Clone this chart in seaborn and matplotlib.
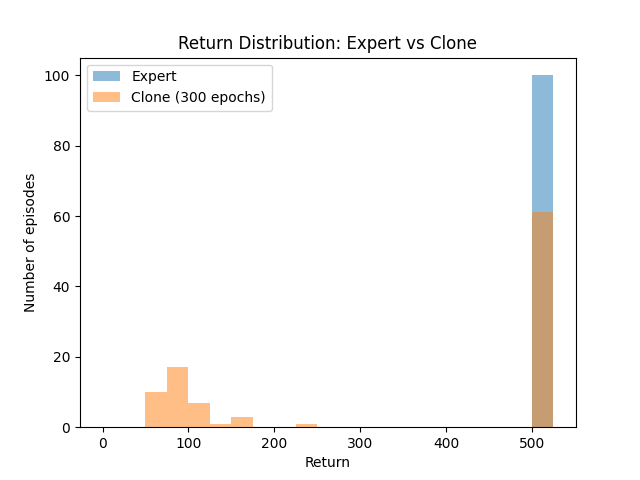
import numpy as np
import pandas as pd
import matplotlib
matplotlib.use("Agg")
import matplotlib.pyplot as plt
import seaborn as sns

# bins of width 25 from 0 to 525
bin_edges = list(range(0, 550, 25))
bin_starts = bin_edges[:-1]

expert_counts = [0]*20 + [100]
clone_counts = [0, 0, 10, 17, 7, 1, 3, 0, 0, 1, 0, 0, 0, 0, 0, 0, 0, 0, 0, 0, 61]

df = pd.DataFrame({
    "mid": [b + 12.5 for b in bin_starts],
    "expert": expert_counts,
    "clone": clone_counts,
})

fig, ax = plt.subplots(figsize=(6.4, 4.8), dpi=100)

sns.histplot(data=df, x="mid", weights="expert", bins=bin_edges,
             color="tab:blue", alpha=0.5, linewidth=0, label="Expert", ax=ax)
sns.histplot(data=df, x="mid", weights="clone", bins=bin_edges,
             color="tab:orange", alpha=0.5, linewidth=0, label="Clone (300 epochs)", ax=ax)

ax.set_title("Return Distribution: Expert vs Clone")
ax.set_xlabel("Return")
ax.set_ylabel("Number of episodes")
ax.legend(loc="upper left")

plt.savefig("out.png", dpi=100)
